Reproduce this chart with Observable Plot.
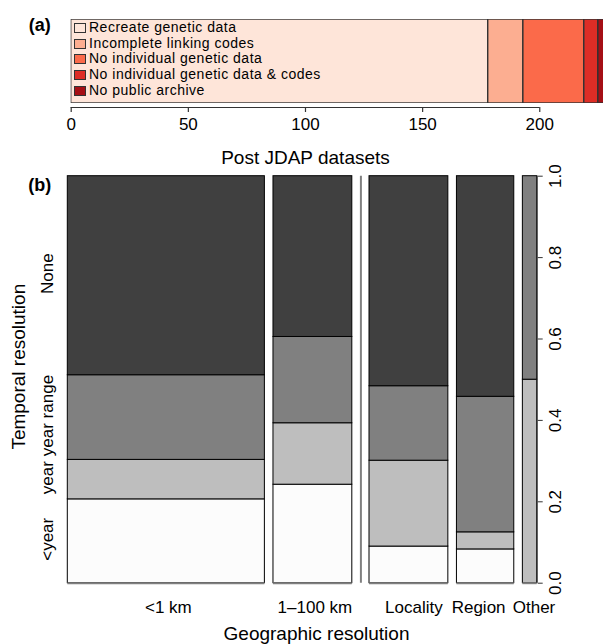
<!DOCTYPE html>
<html>
<head>
<meta charset="utf-8">
<script src="https://cdn.jsdelivr.net/npm/d3@7"></script>
<script src="https://cdn.jsdelivr.net/npm/@observablehq/plot@0.6"></script>
<style>
  html, body { margin: 0; padding: 0; background: #fff; }
  #wrap { position: relative; width: 603px; height: 644px; font-family: "Liberation Sans", Arial, sans-serif; color: #000; }
  #wrap svg { position: absolute; left: 0; overflow: visible; }
  #legend { position: absolute; left: 74px; top: 20px; font-size: 14px; letter-spacing: 0.5px; line-height: 15.7px; }
  #legend .row { display: flex; align-items: center; height: 15.7px; white-space: nowrap; }
  #legend .sw { width: 10px; height: 8px; border: 1px solid #333; margin-right: 3px; box-sizing: content-box; }
</style>
</head>
<body>
<div id="wrap"></div>
<script>
// ---------- Panel (a) data ----------
const statusLabels = ["Recreate genetic data", "Incomplete linking codes", "No individual genetic data", "No individual genetic data & codes", "No public archive"];
const statusCounts = [178, 15, 26, 6, 3];
const statusColors = ["#FEE5D9", "#FCAE91", "#FB6A4A", "#DE2D26", "#A50F15"];
const countTicks = [0, 50, 100, 150, 200];

// ---------- Panel (b) data ----------
const geoLabels = ["<1 km", "1\u2013100 km", "Locality", "Region", "Other"];
const geoCounts = [55, 22, 22, 16, 4];
const tempLabels = ["<year", "year", "year range", "None"];
const tempColors = ["#FCFCFC", "#BEBEBE", "#808080", "#404040"];
// share of each temporal level within each geographic column (bottom to top)
const shareLtYear = [0.206, 0.242, 0.090, 0.083, 0.0];
const shareYear = [0.097, 0.151, 0.211, 0.042, 0.5];
const shareYearRange = [0.208, 0.212, 0.183, 0.333, 0.5];
const shareNone = [0.489, 0.395, 0.516, 0.542, 0.0];
const propTicks = [0, 0.2, 0.4, 0.6, 0.8, 1.0];

const wrap = document.getElementById("wrap");
const font = "Liberation Sans, Arial, sans-serif";

// ---------- Panel (a) ----------
const ends = d3.cumsum(statusCounts);
const segs = statusLabels.map((s, i) => ({status: s, x1: ends[i] - statusCounts[i], x2: ends[i]}));
const axisExt = d3.extent(countTicks);

const plotA = Plot.plot({
  width: 603, height: 165,
  marginLeft: 70.7, marginRight: 0, marginTop: 19, marginBottom: 62,
  style: {fontFamily: font, background: "transparent", overflow: "visible", color: "#000"},
  x: {domain: [0, 227.2], axis: null},
  y: {domain: [0, 1], axis: null},
  color: {domain: statusLabels, range: statusColors},
  marks: [
    Plot.rect(segs, {x1: "x1", x2: "x2", y1: 0, y2: 1, fill: "status", stroke: "#333", strokeWidth: 1.4, clip: true}),
    Plot.ruleY([0], {x1: axisExt[0], x2: axisExt[1], dy: 4, stroke: "#333", strokeWidth: 1.2}),
    Plot.axisX({ticks: countTicks, tickSize: 5, dy: 4, tickPadding: 5, fontSize: 17, label: null, stroke: "#333", strokeWidth: 1.2}),
    Plot.text(["Post JDAP datasets"], {x: d3.mean(axisExt), frameAnchor: "bottom", dy: 54, fontSize: 19, lineAnchor: "middle"}),
    Plot.text(["(a)"], {frameAnchor: "top-left", dx: -31.5, dy: 6, fontSize: 18, fontWeight: "bold", lineAnchor: "middle", textAnchor: "middle"})
  ]
});
plotA.style.top = "0px";
wrap.appendChild(plotA);

// legend (HTML) inside first segment
const legend = document.createElement("div");
legend.id = "legend";
statusLabels.forEach((s, i) => {
  const row = document.createElement("div");
  row.className = "row";
  const sw = document.createElement("div");
  sw.className = "sw";
  sw.style.background = statusColors[i];
  const t = document.createElement("span");
  t.textContent = s;
  row.appendChild(sw); row.appendChild(t);
  legend.appendChild(row);
});
wrap.appendChild(legend);

// ---------- Panel (b) ----------
const gapUnits = 2.4;       // spacing between columns (data units)
const sepAfter = 1;         // empty category drawn as a line after "1–100 km"
let cursor = 0, sepX = null;
const cols = geoLabels.map((g, i) => {
  const x1 = cursor, x2 = cursor + geoCounts[i];
  if (i === sepAfter) sepX = x2 + gapUnits;
  cursor = x2 + gapUnits * (i === sepAfter ? 2 : 1);
  return {g, x1, x2, xm: (x1 + x2) / 2};
});
const totalX = cols[cols.length - 1].x2;

const shares = [shareLtYear, shareYear, shareYearRange, shareNone];
const cells = [];
cols.forEach((c, j) => {
  let acc = 0;
  tempLabels.forEach((t, k) => {
    const v = shares[k][j];
    if (v > 0) cells.push({temp: t, x1: c.x1, x2: c.x2, y1: acc, y2: acc + v});
    acc += v;
  });
});
// temporal labels at the centres of the first column's cells
const firstCol = cells.filter(d => d.x1 === cols[0].x1).map(d => ({temp: d.temp, ym: (d.y1 + d.y2) / 2}));

const labelNudge = [2, 2, 5, -7, 4];

const plotB = Plot.plot({
  width: 603, height: 479,
  marginLeft: 67.3, marginRight: 66.3, marginTop: 10.7, marginBottom: 61.3,
  style: {fontFamily: font, background: "transparent", overflow: "visible", color: "#000"},
  x: {domain: [0, totalX], axis: null},
  y: {domain: [0, 1], axis: null},
  color: {domain: tempLabels, range: tempColors},
  marks: [
    Plot.rect(cells, {x1: "x1", x2: "x2", y1: "y1", y2: "y2", fill: "temp", stroke: "#000", strokeWidth: 1}),
    Plot.ruleY(cols, {x1: "x1", x2: "x2", y: 0, stroke: "#808080", strokeWidth: 2}),
    Plot.ruleX([sepX], {y1: 0, y2: 1, stroke: "#808080", strokeWidth: 2}),
    Plot.ruleX([totalX], {y1: 0, y2: 1, stroke: "#333", strokeWidth: 1}),
    Plot.axisY({anchor: "right", ticks: propTicks, tickSize: 5, tickFormat: () => "", label: null, stroke: "#333"}),
    Plot.text(propTicks, {y: d => d, text: d => d3.format(".1f")(d), frameAnchor: "right", dx: 18.5, rotate: -90, fontSize: 17, textAnchor: "middle", lineAnchor: "middle"}),
    Plot.text(firstCol, {y: "ym", text: "temp", frameAnchor: "left", dx: -20.5, dy: -2, rotate: -90, fontSize: 17, textAnchor: "middle", lineAnchor: "middle"}),
    ...cols.map((c, i) => Plot.text([c], {x: "xm", text: "g", frameAnchor: "bottom", dy: 24, dx: labelNudge[i], fontSize: 17, lineAnchor: "middle"})),
    Plot.text(["Temporal resolution"], {frameAnchor: "left", dx: -49, dy: -13, rotate: -90, fontSize: 19, textAnchor: "middle", lineAnchor: "middle"}),
    Plot.text(["Geographic resolution"], {frameAnchor: "bottom", dx: 14, dy: 50.5, fontSize: 19, lineAnchor: "middle"}),
    Plot.text(["(b)"], {frameAnchor: "top-left", dx: -28, dy: 9.5, fontSize: 18, fontWeight: "bold", lineAnchor: "middle", textAnchor: "middle"})
  ]
});
plotB.style.top = "165px";
wrap.appendChild(plotB);
</script>
</body>
</html>
